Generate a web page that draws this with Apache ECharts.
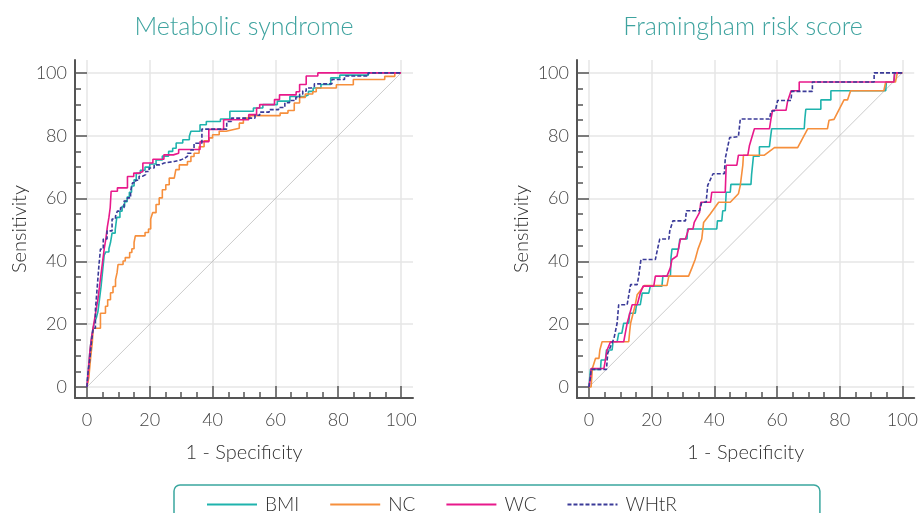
<!DOCTYPE html>
<html><head><meta charset="utf-8">
<script src="https://cdn.jsdelivr.net/npm/echarts@6/dist/echarts.min.js"></script>
<style>html,body{margin:0;padding:0;background:#fff}#c{width:921px;height:513px}</style>
</head><body><div id="c"></div>
<script>
const panelTitles = ['Metabolic syndrome', 'Framingham risk score'];
const seriesNames = ['BMI', 'NC', 'WC', 'WHtR'];
const tickValues = [0, 20, 40, 60, 80, 100];
const diagonal = [[0, 0], [100, 100]];

// Metabolic syndrome (step corners: at x the curve rises to y)
const msBMI = [[0,0],[0.5,6],[1,12],[1.5,16],[2,19],[2.5,21],[3,22],[3.5,24],[4,28],[4.5,32],[5,37],[5.5,42],[6,43],[7,44],[7.5,46],[8,49],[9,50],[9.5,54],[10.5,56],[11.2,57.5],[12,59],[12.8,60.5],[13.5,62],[14.2,64],[15,66],[15.7,68],[17,69],[18.5,70],[20,71],[22,72.3],[24,73.5],[26,75],[27.3,76],[28.4,77.7],[30.5,78.7],[32.6,79.8],[33.1,81.4],[36,83.5],[38,84.5],[42.5,85.3],[45.5,87.8],[53,88.8],[56,89.9],[60.6,91],[64.6,92.5],[69.4,93],[70.5,94.1],[72,95.2],[74.5,96.3],[77.6,98.4],[80.5,99.3],[89.6,100],[100,100]];
const msNC = [[0,0],[0.6,3],[1.2,9.6],[1.7,14],[2,18.7],[4.3,23.5],[5.9,25.7],[6.6,27.8],[7.5,30],[8.3,32],[9.1,34.2],[9.6,36.4],[9.9,39],[11.5,40.1],[12.2,41.2],[13.6,42.8],[14.3,44],[15,46],[15.4,48.1],[18.5,49.2],[19.6,50.3],[20.3,53.5],[20.9,55.5],[22,58.1],[23,60.2],[24,62.8],[25.1,64.4],[26.2,66.5],[27.8,67.1],[28.3,69.2],[29.4,70.7],[32,71.8],[33.1,73.4],[34.1,74.4],[35.7,76.5],[37.3,78.4],[38.9,79.3],[40,80.3],[42.1,81.4],[44.3,81.9],[46.4,82.4],[48.5,84],[49.8,85.6],[51.9,86.4],[61.5,87.2],[64,88],[66,90.4],[67.7,92.2],[69.5,93.3],[71.9,94],[73,95.2],[79.4,96.2],[84.8,97.9],[94.8,98.9],[98,100],[100,100]];
const msWC = [[0,0],[0.5,6],[1,12],[1.5,16],[2,19],[2.5,22],[3,25],[3.5,28],[4,32],[4.5,36],[5,40],[5.5,44],[6,47],[6.5,51],[7,54],[7.4,57],[7.7,62.3],[9.7,63.4],[12.9,67],[14.9,68.1],[16.6,68.6],[17.8,71.3],[21,72.5],[24.5,73.9],[27.5,74.4],[29.2,75.6],[36,78.1],[38.8,82],[43.5,85.1],[51.5,86.7],[54,88.8],[55,89.9],[59.7,91.5],[61.3,93],[66.6,94],[67.7,96.3],[69.8,99],[73.5,100],[100,100]];
const msWHtR = [[0,0],[0.3,4.3],[0.9,8.6],[1.4,14],[2,18.7],[2.7,24.6],[3.3,32.1],[3.8,38.5],[4.3,43.9],[5.2,47.1],[6.4,49.7],[8,53.5],[9.1,54.4],[9.7,56],[10.7,57.1],[11.8,59.2],[12.9,60.2],[13.9,62.3],[14.5,65],[15.5,65.8],[16.6,67.1],[17.7,67.6],[18.7,68.6],[19.8,69.7],[21.4,70.7],[23,71.3],[24.6,71.8],[27.8,72.3],[29.9,72.8],[31,73.4],[32,74.4],[33.1,75.5],[34.1,77.6],[36.6,82.1],[44.5,84.5],[46,85.6],[53.5,86.5],[55,87.5],[58,88.3],[61,89],[63,90.5],[64.5,91.2],[66.5,92.2],[67.7,93.2],[68.7,94.2],[69.8,95.2],[71.4,95.7],[72.4,96.5],[78,97.9],[82,99],[89.5,100],[100,100]];

// Framingham risk score (polyline vertices)
const frBMI = [[0,0],[0.5,5.6],[3.7,5.6],[3.9,8.6],[5.3,8.6],[5.6,11.8],[7.4,11.8],[7.7,14.4],[9,14.4],[9.5,17.1],[10.5,17.1],[11.1,20.3],[12.7,20.3],[13,23.5],[14.8,23.5],[15.2,26.2],[16.4,26.2],[17,29.9],[19.1,29.9],[19.6,32.1],[23.3,32.1],[23.6,35.3],[26,35.3],[26.2,41.2],[26.5,43.9],[28.6,43.9],[29,47.1],[31.3,47.1],[31.5,50.3],[40.8,50.3],[41,52.9],[42.4,52.9],[42.7,56.1],[43.5,56.1],[43.8,62],[45.1,62],[45.3,64.5],[51.7,64.5],[51.9,67.6],[52.5,73.5],[54.4,73.5],[54.4,76.5],[57.6,76.5],[57.9,79.1],[58.3,82.2],[68.7,82.2],[68.9,85.4],[69.2,88.4],[74,88.4],[74,91.4],[77.2,91.4],[77.2,94.3],[94.7,94.3],[94.9,97.1],[97.3,97.1],[97.6,100],[100,100]];
const frNC = [[0,0],[0.7,0],[1.1,5.9],[2.1,9.1],[3.2,9.1],[3.5,11.8],[4.2,14.4],[12.7,14.4],[13,17.6],[13.3,20.3],[14.8,26.2],[15.4,29.4],[17.7,32.3],[24.9,32.3],[25.5,35.3],[31.8,35.3],[32.9,38],[33.9,40.6],[34.8,43.9],[36,47.1],[36.6,52.4],[38.7,55.1],[41.4,58.8],[45.1,58.8],[47.7,61.5],[48.3,64.2],[49.1,70.6],[49.3,73.8],[56,73.8],[59.2,76.2],[66.6,76.2],[69.8,82.2],[76.1,82.2],[76.6,84.9],[78.2,85.2],[81.4,91.4],[82.5,91.4],[83.5,94.3],[94.1,94.3],[94.7,97.1],[97.8,97.1],[98.4,100],[100,100]];
const frWC = [[0,0],[0.5,3],[0.7,5.9],[4.8,5.9],[5.8,11.8],[6.9,14.4],[11.1,14.4],[12.2,20.3],[13.8,26.2],[15.4,26.2],[16.4,29.9],[17.3,32.1],[20.7,32.1],[21.2,35.3],[24.9,35.3],[26,38],[26.5,40.6],[28.1,41.7],[29.2,47.1],[30.8,47.1],[31.8,50.3],[33.2,50.3],[33.6,52.4],[35.3,55.6],[35.7,58.8],[38.8,58.8],[39.2,62],[43.5,62],[43.8,70.6],[47.2,70.6],[47.7,73.8],[50.7,73.8],[51.2,76.8],[52.8,82.2],[57.6,82.2],[58.1,85.4],[58.6,88.1],[62.9,88.1],[63.4,91],[64.5,94.3],[67.1,94.3],[67.1,97.1],[97.3,97.1],[97.5,100],[100,100]];
const frWHtR = [[0,0],[0.5,3.2],[0.7,5.6],[5.6,5.6],[6,10.7],[8,15.5],[9,20.3],[9.5,26.2],[12.2,26.2],[13.3,32.6],[15.4,32.6],[15.9,35.3],[16.6,40.6],[21.2,40.6],[22,44.4],[22.6,47.1],[25.5,47.1],[25.8,49.7],[26.8,52.9],[30.8,52.9],[31.1,56.1],[35.3,56.1],[36,58.8],[37.4,58.8],[37.9,64.2],[39.6,67.9],[43.2,67.9],[43.5,72.7],[44.9,79.4],[47.7,79.7],[48.3,85.3],[57.6,85.3],[58.1,87.8],[59.5,88],[60.2,91.2],[64.5,91.2],[64.7,94.1],[71.3,94.1],[71.3,97.1],[91,97.1],[91,100],[100,100]];

const colors = { BMI: '#1fb3ad', NC: '#f68f3c', WC: '#e8198b', WHtR: '#3a3a98' };
const FONT = 'Lato, "Open Sans", sans-serif';
const X_RANGE = { min: -3.8, max: 103.8 };
const Y_RANGE = { min: -3.5, max: 104.1 };

function axisCommon() {
  return {
    z: 3,
    axisLine: { show: true, onZero: false, lineStyle: { color: '#555', width: 2 } },
    axisTick: { show: true, inside: true, length: 12, customValues: tickValues, lineStyle: { color: '#555', width: 1.5 } },
    minorTick: { show: true, splitNumber: 4, length: 6, lineStyle: { color: '#555', width: 1.5 } },
    splitLine: { show: false },
    nameTextStyle: { fontSize: 20, color: '#333', fontFamily: FONT, fontWeight: 300 }
  };
}
function xAxis(gi) {
  return Object.assign(axisCommon(), X_RANGE, {
    type: 'value', gridIndex: gi,
    name: '1 - Specificity', nameLocation: 'middle', nameGap: 45,
    axisLabel: { show: true, customValues: tickValues, fontSize: 18, color: '#444', margin: 13, fontFamily: FONT, fontWeight: 300 }
  });
}
function yAxis(gi) {
  return Object.assign(axisCommon(), Y_RANGE, {
    type: 'value', gridIndex: gi,
    name: 'Sensitivity', nameLocation: 'middle', nameGap: 45,
    axisLabel: { show: true, customValues: tickValues, fontSize: 18, color: '#444', margin: 8, fontFamily: FONT, fontWeight: 300 }
  });
}
// grid-line-only axes, drawn underneath the tick marks
function gridAxis(gi, range) {
  return Object.assign({
    type: 'value', gridIndex: gi, z: 0,
    axisLine: { show: false }, axisLabel: { show: false },
    axisTick: { show: false, customValues: tickValues },
    splitLine: { show: true, lineStyle: { color: '#e6e6e6', width: 1.5 } }
  }, range);
}

function lineSeries(name, data, gi, step) {
  const s = {
    type: 'line', name: name, data: data, xAxisIndex: gi, yAxisIndex: gi,
    symbol: 'none', showSymbol: false, step: step ? 'end' : false,
    lineStyle: { color: colors[name], width: 1.6 }, itemStyle: { color: colors[name] },
    emphasis: { disabled: true }, silent: true
  };
  if (name === 'WHtR') { s.lineStyle.type = [4, 2]; }
  return s;
}
function diagSeries(gi) {
  return { type: 'line', name: 'ref', data: diagonal, xAxisIndex: gi, yAxisIndex: gi, symbol: 'none',
    lineStyle: { color: '#a8a8a8', width: 0.6 }, silent: true, z: 1 };
}

const ms = [msBMI, msNC, msWC, msWHtR];
const fr = [frBMI, frNC, frWC, frWHtR];
const series = [diagSeries(0), diagSeries(1)];
seriesNames.forEach((n, i) => series.push(lineSeries(n, ms[i], 0, true)));
seriesNames.forEach((n, i) => series.push(lineSeries(n, fr[i], 1, false)));

const chart = echarts.init(document.getElementById('c'), null, { renderer: 'canvas' });
chart.setOption({
  animation: false,
  backgroundColor: '#fff',
  title: [
    { text: panelTitles[0], left: 244, top: 14, textAlign: 'center', padding: 0,
      textStyle: { fontSize: 25, color: '#3ea39f', fontWeight: 300, fontFamily: FONT } },
    { text: panelTitles[1], left: 743, top: 14, textAlign: 'center', padding: 0,
      textStyle: { fontSize: 25, color: '#3ea39f', fontWeight: 300, fontFamily: FONT } }
  ],
  grid: [
    { left: 75, top: 60, width: 338, height: 338, containLabel: false },
    { left: 577, top: 60, width: 338, height: 338, containLabel: false }
  ],
  xAxis: [xAxis(0), xAxis(1), gridAxis(0, X_RANGE), gridAxis(1, X_RANGE)],
  yAxis: [yAxis(0), yAxis(1), gridAxis(0, Y_RANGE), gridAxis(1, Y_RANGE)],
  legend: {
    data: seriesNames, left: 174, top: 485, itemWidth: 50, itemHeight: 14, itemGap: 30,
    padding: [10, 143, 12, 32], borderColor: '#3aa79f', borderWidth: 1.5, borderRadius: 6,
    itemStyle: { opacity: 0 },
    textStyle: { fontSize: 19, color: '#333', fontFamily: FONT, fontWeight: 300, padding: [0, 0, 0, 3] },
    selectedMode: false
  },
  series: series
});
</script>
</body></html>
